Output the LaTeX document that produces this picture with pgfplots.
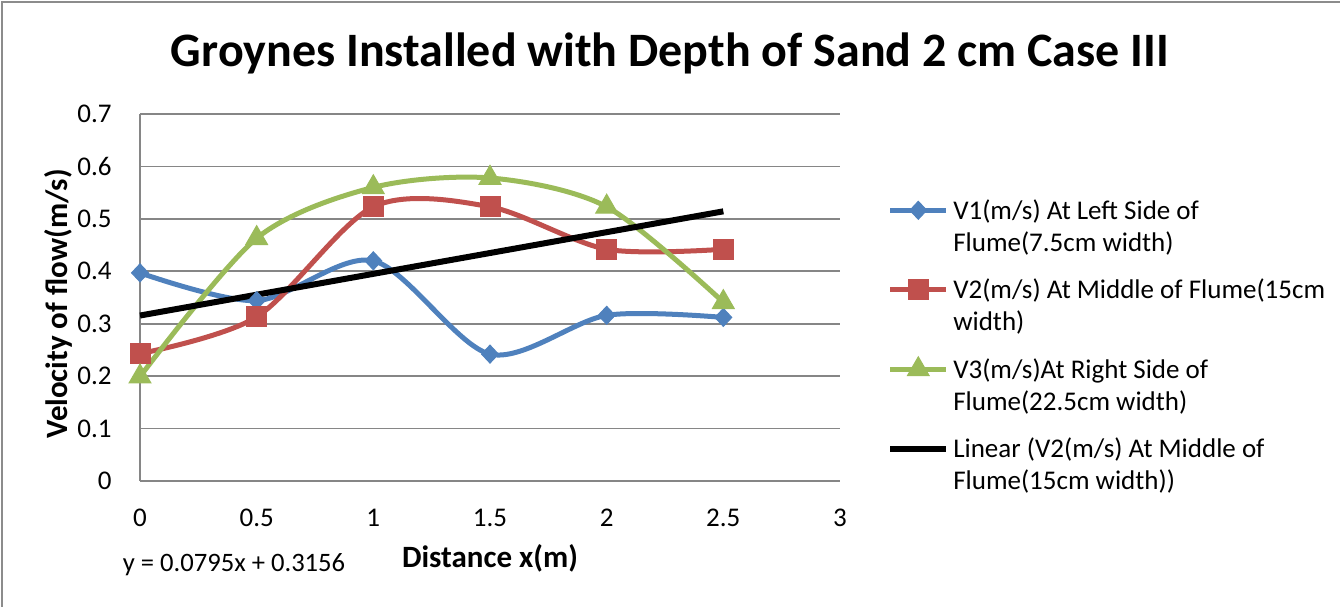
\documentclass[border=0pt]{standalone}
\usepackage{fontspec}
\setmainfont{Carlito}
\usepackage{pgfplots}
\pgfplotsset{compat=1.18}
\definecolor{v1}{HTML}{4F81BD}
\definecolor{v2}{HTML}{C0504D}
\definecolor{v3}{HTML}{9BBB59}
\definecolor{gridgray}{HTML}{868686}
\definecolor{bordergray}{HTML}{8C8C8C}
\newcommand{\lentry}[2]{\vtop{\baselineskip=16bp\hbox{\rule[-5bp]{0pt}{16bp}#1}\hbox{\rule[-5bp]{0pt}{16bp}#2}}}
\begin{document}
\begin{tikzpicture}
\path[use as bounding box] (0,0) rectangle (670bp,303.5bp);
\draw[bordergray, line width=1bp] (1bp,0) -- (1bp,302.5bp) -- (670bp,302.5bp);
\node[font=\fontsize{24bp}{28bp}\selectfont\bfseries] at (335bp,277bp) {Groynes Installed with Depth of Sand 2 cm Case III};
\begin{axis}[
  at={(70bp,63bp)}, anchor=south west,
  scale only axis, width=350bp, height=183.5bp,
  xmin=0, xmax=3, ymin=0, ymax=0.7,
  xtick={0,0.5,1,1.5,2,2.5,3},
  ytick={0,0.1,0.2,0.3,0.4,0.5,0.6,0.7},
  major tick length=0,
  axis x line=bottom, axis y line=left,
  axis line style={-, draw=gridgray, line width=0.9bp},
  ymajorgrids, major grid style={gridgray, line width=0.9bp},
  tick label style={font=\fontsize{13.5bp}{16bp}\selectfont, inner sep=0pt},
  /pgf/number format/assume math mode=true,
  yticklabel shift=14bp,
  xticklabel shift=14bp,
  xlabel={Distance x(m)},
  label style={font=\fontsize{15.5bp}{18bp}\selectfont\bfseries},
  xlabel style={at={(axis description cs:0.5,-0.21)}, anchor=center},
  legend cell align=left,
  legend style={at={(axis description cs:1.067,0.785)}, anchor=north west, draw=none, fill=none,
    font=\fontsize{13.5bp}{16bp}\selectfont, row sep=23.3bp, inner sep=0pt, column sep=0pt,
    cells={anchor=base west, inner xsep=0pt, xshift=-3bp}},
  legend image code/.code={\draw[mark repeat=2, mark phase=2] plot coordinates {(0bp,4.5bp) (14bp,4.5bp) (28bp,4.5bp)};},
  clip=false,
]
\addplot[v1, line width=2.5bp, smooth, tension=0.5, mark=diamond*, mark size=4.5bp,
  mark options={fill=v1, draw=v1, line width=0.5bp, solid, xscale=1.25}]
  coordinates {(0,0.397) (0.5,0.344) (1,0.420) (1.5,0.242) (2,0.316) (2.5,0.312)};
\addlegendentry{\lentry{V1(m/s) At Left Side of}{Flume(7.5cm width)}}
\addplot[v2, line width=2.5bp, smooth, tension=0.5, mark=square*, mark size=5bp,
  mark options={fill=v2, draw=v2, line width=0.5bp, solid}]
  coordinates {(0,0.243) (0.5,0.313) (1,0.523) (1.5,0.523) (2,0.442) (2.5,0.442)};
\addlegendentry{\lentry{V2(m/s) At Middle of Flume(15cm}{width)}}
\addplot[v3, line width=2.5bp, smooth, tension=0.5, mark=triangle*, mark size=6.3bp,
  mark options={fill=v3, draw=v3, line width=0.5bp, solid}]
  coordinates {(0,0.199) (0.5,0.463) (1,0.560) (1.5,0.578) (2,0.523) (2.5,0.341)};
\addlegendentry{\lentry{V3(m/s)At Right Side of}{Flume(22.5cm width)}}
\addplot[black, line width=3bp, no marks]
  coordinates {(0,0.3156) (2.5,0.51435)};
\addlegendentry{\lentry{Linear (V2(m/s) At Middle of}{Flume(15cm width))}}
\end{axis}
\node[rotate=90, anchor=center, inner sep=0pt, font=\fontsize{15.5bp}{18bp}\selectfont\bfseries] at (29bp,151.5bp) {Velocity of flow(m/s)};
\node[font=\fontsize{13.3bp}{16bp}\selectfont] at (117bp,21bp) {y = 0.0795x + 0.3156};
\end{tikzpicture}
\end{document}
